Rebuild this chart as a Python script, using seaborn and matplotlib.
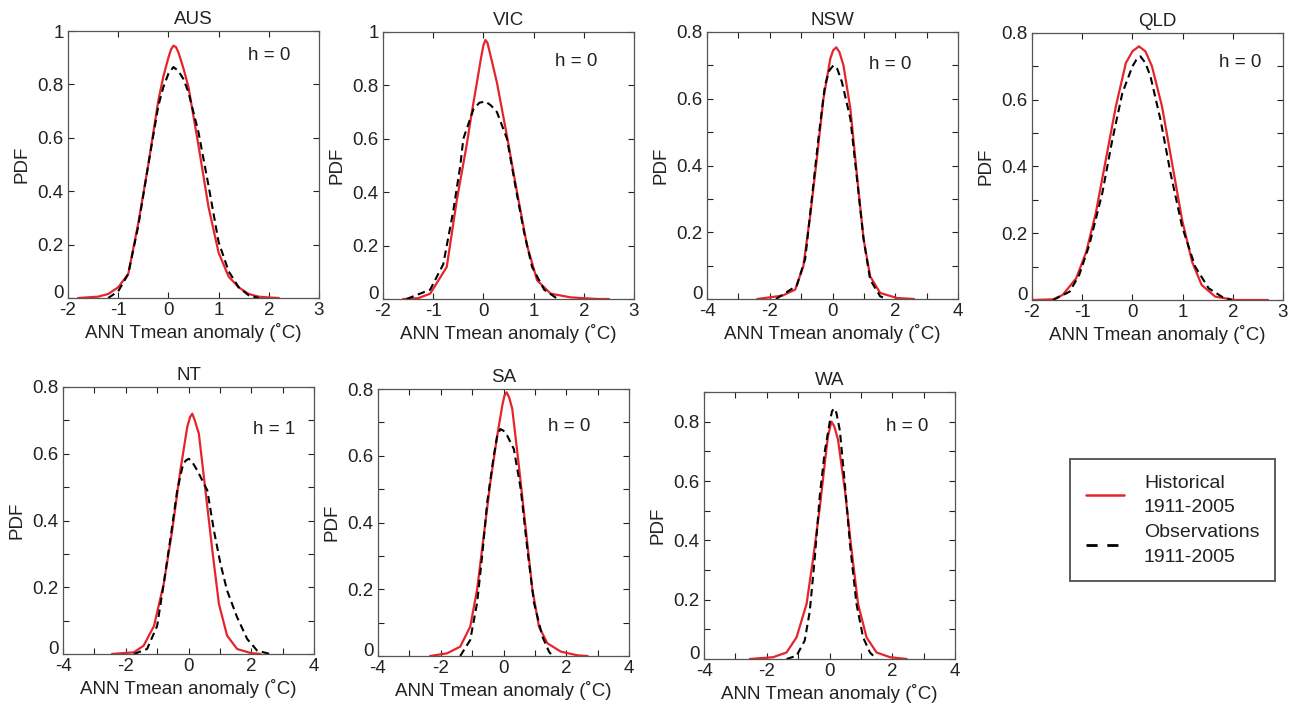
import matplotlib
matplotlib.use("Agg")
import numpy as np
import matplotlib.pyplot as plt
from matplotlib.lines import Line2D
import seaborn as sns

# region names and the bandwidth flag printed in each panel
regions = ["AUS", "VIC", "NSW", "QLD", "NT", "SA", "WA"]
h_values = [0, 0, 0, 0, 1, 0, 0]

aus_hist_x = [-1.8, -1.4, -1.2, -1.0, -0.8, -0.6, -0.4, -0.2, -0.1, 0.0, 0.05, 0.1, 0.15, 0.2, 0.3, 0.4, 0.6, 0.8, 1.0, 1.2, 1.4, 1.6, 1.8, 2.0, 2.2]
aus_hist_y = [0.0, 0.005, 0.015, 0.04, 0.09, 0.28, 0.50, 0.74, 0.83, 0.90, 0.93, 0.945, 0.94, 0.92, 0.86, 0.79, 0.57, 0.34, 0.17, 0.08, 0.04, 0.015, 0.005, 0.002, 0.0]
aus_obs_x = [-1.2, -1.0, -0.8, -0.6, -0.4, -0.2, -0.1, 0.0, 0.1, 0.2, 0.3, 0.4, 0.6, 0.8, 1.0, 1.2, 1.4, 1.6, 1.8]
aus_obs_y = [0.0, 0.025, 0.09, 0.27, 0.50, 0.72, 0.79, 0.84, 0.865, 0.85, 0.82, 0.77, 0.62, 0.42, 0.21, 0.10, 0.04, 0.01, 0.0]

vic_hist_x = [-1.6, -1.3, -1.06, -0.73, -0.53, -0.33, -0.23, -0.13, -0.05, 0.0, 0.04, 0.08, 0.17, 0.27, 0.37, 0.47, 0.67, 0.87, 1.07, 1.34, 1.74, 2.28, 2.5]
vic_hist_y = [0.0, 0.003, 0.02, 0.12, 0.37, 0.58, 0.70, 0.81, 0.90, 0.95, 0.97, 0.96, 0.89, 0.81, 0.71, 0.61, 0.40, 0.20, 0.07, 0.02, 0.006, 0.0, 0.0]
vic_obs_x = [-1.53, -1.06, -0.8, -0.6, -0.46, -0.4, -0.2, -0.08, 0.04, 0.15, 0.27, 0.47, 0.64, 0.81, 0.97, 1.21, 1.48]
vic_obs_y = [0.0, 0.035, 0.13, 0.33, 0.50, 0.60, 0.71, 0.735, 0.74, 0.725, 0.70, 0.60, 0.42, 0.25, 0.12, 0.035, 0.0]

nsw_hist_x = [-2.4, -1.6, -1.19, -0.93, -0.71, -0.5, -0.29, -0.07, 0.02, 0.12, 0.22, 0.35, 0.57, 0.78, 0.99, 1.2, 1.52, 2.06, 2.6]
nsw_hist_y = [0.0, 0.01, 0.028, 0.098, 0.25, 0.42, 0.60, 0.72, 0.745, 0.754, 0.74, 0.70, 0.57, 0.37, 0.18, 0.068, 0.018, 0.003, 0.0]
nsw_obs_x = [-1.8, -1.14, -0.87, -0.66, -0.45, -0.24, -0.1, 0.03, 0.15, 0.3, 0.57, 0.78, 0.99, 1.2, 1.52, 1.74]
nsw_obs_y = [0.0, 0.04, 0.12, 0.30, 0.48, 0.64, 0.685, 0.70, 0.69, 0.65, 0.54, 0.36, 0.18, 0.058, 0.008, 0.0]

qld_hist_x = [-2.0, -1.58, -1.39, -1.12, -0.92, -0.73, -0.53, -0.33, -0.13, 0.0, 0.13, 0.26, 0.39, 0.59, 0.79, 0.99, 1.19, 1.38, 1.65, 2.04, 2.7]
qld_hist_y = [0.0, 0.002, 0.015, 0.065, 0.144, 0.26, 0.42, 0.58, 0.71, 0.745, 0.76, 0.745, 0.70, 0.58, 0.41, 0.24, 0.114, 0.045, 0.01, 0.0, 0.0]
qld_obs_x = [-1.58, -1.25, -1.06, -0.86, -0.6, -0.4, -0.2, 0.0, 0.08, 0.16, 0.26, 0.36, 0.56, 0.76, 0.99, 1.25, 1.52, 1.78, 1.98]
qld_obs_y = [0.0, 0.025, 0.075, 0.164, 0.32, 0.48, 0.62, 0.70, 0.72, 0.73, 0.71, 0.67, 0.54, 0.38, 0.22, 0.10, 0.035, 0.01, 0.0]

nt_hist_x = [-2.44, -1.74, -1.43, -1.1, -0.79, -0.52, -0.26, -0.04, 0.05, 0.12, 0.2, 0.33, 0.54, 0.76, 0.97, 1.23, 1.55, 1.98, 2.3]
nt_hist_y = [0.0, 0.005, 0.025, 0.084, 0.21, 0.37, 0.55, 0.68, 0.71, 0.72, 0.70, 0.66, 0.49, 0.31, 0.15, 0.055, 0.015, 0.003, 0.0]
nt_obs_x = [-1.74, -1.32, -1.0, -0.79, -0.57, -0.36, -0.17, -0.08, 0.01, 0.12, 0.28, 0.6, 0.81, 1.02, 1.23, 1.55, 1.87, 2.19, 2.6]
nt_obs_y = [0.0, 0.015, 0.084, 0.21, 0.35, 0.49, 0.57, 0.58, 0.585, 0.575, 0.55, 0.49, 0.37, 0.27, 0.19, 0.11, 0.045, 0.01, 0.0]

sa_hist_x = [-2.34, -1.8, -1.38, -1.06, -0.84, -0.63, -0.42, -0.2, -0.04, 0.03, 0.1, 0.18, 0.28, 0.49, 0.71, 0.92, 1.13, 1.4, 1.83, 2.36, 2.68]
sa_hist_y = [0.0, 0.008, 0.028, 0.088, 0.20, 0.36, 0.52, 0.66, 0.75, 0.78, 0.79, 0.775, 0.74, 0.57, 0.38, 0.20, 0.088, 0.038, 0.013, 0.002, 0.0]
sa_obs_x = [-1.38, -1.06, -0.84, -0.68, -0.52, -0.31, -0.2, -0.1, 0.0, 0.12, 0.33, 0.55, 0.76, 0.97, 1.24, 1.45, 1.56]
sa_obs_y = [0.0, 0.048, 0.16, 0.30, 0.46, 0.60, 0.66, 0.68, 0.675, 0.66, 0.62, 0.50, 0.32, 0.16, 0.058, 0.013, 0.0]

wa_hist_x = [-2.54, -1.8, -1.37, -1.05, -0.73, -0.52, -0.31, -0.15, -0.05, 0.06, 0.15, 0.27, 0.49, 0.7, 0.91, 1.18, 1.5, 1.93, 2.46]
wa_hist_y = [0.0, 0.006, 0.022, 0.073, 0.186, 0.34, 0.51, 0.66, 0.75, 0.80, 0.785, 0.74, 0.57, 0.37, 0.186, 0.073, 0.022, 0.006, 0.0]
wa_obs_x = [-1.37, -1.05, -0.79, -0.63, -0.47, -0.31, -0.15, 0.01, 0.08, 0.15, 0.22, 0.33, 0.49, 0.65, 0.86, 1.07, 1.29, 1.5]
wa_obs_y = [0.0, 0.011, 0.062, 0.16, 0.34, 0.55, 0.70, 0.80, 0.835, 0.845, 0.83, 0.77, 0.59, 0.39, 0.186, 0.073, 0.022, 0.0]

hist_curves = [(aus_hist_x, aus_hist_y), (vic_hist_x, vic_hist_y), (nsw_hist_x, nsw_hist_y),
               (qld_hist_x, qld_hist_y), (nt_hist_x, nt_hist_y), (sa_hist_x, sa_hist_y),
               (wa_hist_x, wa_hist_y)]
obs_curves = [(aus_obs_x, aus_obs_y), (vic_obs_x, vic_obs_y), (nsw_obs_x, nsw_obs_y),
              (qld_obs_x, qld_obs_y), (nt_obs_x, nt_obs_y), (sa_obs_x, sa_obs_y),
              (wa_obs_x, wa_obs_y)]

# axis limits per panel
x_limits = [(-2, 3), (-2, 3), (-4, 4), (-2, 3), (-4, 4), (-4, 4), (-4, 4)]
y_tops = [1.0, 1.0, 0.8, 0.8, 0.8, 0.8, 0.9]

# layout (pixels of the 1295x711 canvas): left, top of each axes box
W, H = 1295, 711
box_px = [(68, 31), (383, 32), (707, 32), (1032, 33), (63, 387), (378, 389), (704, 392)]
box_w, box_h = 251, 267
h_pos = [(0.80, 0.91), (0.77, 0.89), (0.73, 0.88), (0.83, 0.89), (0.84, 0.84), (0.76, 0.86), (0.81, 0.87)]

RED = "#e5252b"
TXT = "#222222"
FS = 13.5
dash = (0, (3.6, 2.2))

sns.set_style("ticks")
plt.rcParams["font.family"] = ["Liberation Sans", "DejaVu Sans"]
plt.rcParams["font.size"] = FS

fig = plt.figure(figsize=(W / 100, H / 100), dpi=100)

for i, region in enumerate(regions):
    left, top = box_px[i]
    ax = fig.add_axes([left / W, 1 - (top + box_h) / H, box_w / W, box_h / H])

    hx, hy = hist_curves[i]
    ox, oy = obs_curves[i]
    sns.lineplot(x=hx, y=hy, ax=ax, color=RED, lw=1.6, estimator=None, sort=False)
    sns.lineplot(x=ox, y=oy, ax=ax, color="black", lw=1.5, linestyle=dash,
                 estimator=None, sort=False)

    x0, x1 = x_limits[i]
    ax.set_xlim(x0, x1)
    ax.set_ylim(0, y_tops[i])

    xt = np.arange(x0, x1 + 1)
    if x1 - x0 > 5:
        xl = [f"{v:g}" if v % 2 == 0 else "" for v in xt]
    else:
        xl = [f"{v:g}" for v in xt]
    ax.set_xticks(xt, xl)

    if y_tops[i] == 1.0:
        yt = np.round(np.arange(0, 1.01, 0.2), 1)
        yl = [f"{v:g}" for v in yt]
    else:
        yt = np.round(np.arange(0, y_tops[i] + 0.01, 0.1), 1)
        yl = [f"{v:g}" if round(v * 10) % 2 == 0 else "" for v in yt]
    ax.set_yticks(yt, yl)

    ax.tick_params(direction="in", top=True, right=True, length=4, width=0.8,
                   labelsize=FS, colors=TXT, pad=3)
    # MATLAB-style: the zero label sits just above the corner
    ax.get_yticklabels()[0].set_verticalalignment("baseline")
    for sp in ax.spines.values():
        sp.set_color("#555555")
        sp.set_linewidth(0.9)

    ax.set_title(region, fontsize=FS, color=TXT, pad=5)
    ax.set_xlabel("ANN Tmean anomaly (˚C)", fontsize=FS, color=TXT, labelpad=3)
    ax.set_ylabel("PDF", fontsize=FS, color=TXT, labelpad=5)
    ax.text(h_pos[i][0], h_pos[i][1], f"h = {h_values[i]}", transform=ax.transAxes,
            ha="center", va="center", fontsize=FS, color=TXT)

handles = [Line2D([], [], color=RED, lw=1.8),
           Line2D([], [], color="black", lw=2.0, linestyle=(0, (4, 3.5)))]
leg = fig.legend(handles, ["Historical\n1911-2005", "Observations\n1911-2005"],
                 loc="upper left", bbox_to_anchor=(1070 / W, 1 - 459 / H),
                 fancybox=False, frameon=True, fontsize=14, handlelength=2.0,
                 handletextpad=1.0, labelspacing=0.45, borderpad=0.8, borderaxespad=0)
leg.get_frame().set_edgecolor("#333333")
leg.get_frame().set_linewidth(1.4)
for t in leg.get_texts():
    t.set_color(TXT)
    t.set_linespacing(1.55)

fig.savefig("out.png", dpi=100, facecolor="white")
